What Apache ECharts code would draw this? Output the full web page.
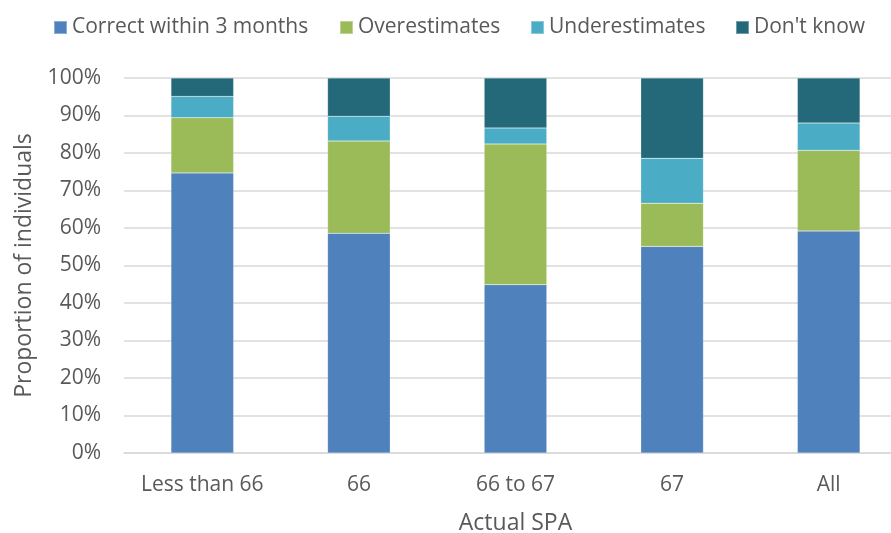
<!DOCTYPE html>
<html>
<head>
<meta charset="utf-8">
<script src="https://cdn.jsdelivr.net/npm/echarts@6/dist/echarts.min.js"></script>
<style>
  html, body { margin: 0; padding: 0; background: #fff; }
  #chart { width: 891px; height: 533px; }
</style>
</head>
<body>
<div id="chart"></div>
<script>
// Expected state pension age accuracy, by actual SPA
const categories = ['Less than 66', '66', '66 to 67', '67', 'All'];
const correctWithin3Months = [74.7, 58.6, 44.9, 55.1, 59.2];
const overestimates = [14.7, 24.6, 37.5, 11.5, 21.5];
const underestimates = [5.7, 6.6, 4.3, 12.0, 7.3];
const dontKnow = [4.9, 10.2, 13.3, 21.4, 12.0];

const FONT = 'Open Sans';
const TEXT = '#595959';
const FS = 21;       // tick labels and legend
const FS_TITLE = 23; // axis titles

const seriesDefs = [
  { name: 'Correct within 3 months', data: correctWithin3Months, color: '#4F81BD' },
  { name: 'Overestimates', data: overestimates, color: '#9BBB59' },
  { name: 'Underestimates', data: underestimates, color: '#4BACC6' },
  { name: "Don't know", data: dontKnow, color: '#24697A' }
];

// one legend block per series so each entry sits at its own x position
const legendLefts = [53, 339, 530, 735];
const legends = seriesDefs.map((s, i) => ({
  top: 17,
  left: legendLefts[i],
  padding: 0,
  itemWidth: 13,
  itemHeight: 13,
  icon: 'rect',
  textStyle: { fontFamily: FONT, fontSize: FS, color: TEXT },
  data: [s.name]
}));

const chart = echarts.init(document.getElementById('chart'), null, { renderer: 'canvas' });

chart.setOption({
  animation: false,
  textStyle: { fontFamily: FONT, color: TEXT },
  legend: legends,
  grid: { left: 124, top: 78, width: 783, height: 375, containLabel: false, outerBoundsMode: 'none' },
  xAxis: {
    type: 'category',
    data: categories,
    name: 'Actual SPA',
    nameLocation: 'middle',
    nameGap: 59,
    nameTextStyle: { fontFamily: FONT, fontSize: FS_TITLE, color: TEXT },
    axisLine: { lineStyle: { color: '#D9D9D9', width: 1.5 } },
    axisTick: { show: false },
    axisLabel: { fontFamily: FONT, fontSize: FS, color: TEXT, margin: 22, interval: 0, hideOverlap: false }
  },
  yAxis: {
    type: 'value',
    min: 0,
    max: 100,
    interval: 10,
    name: 'Proportion of individuals',
    nameLocation: 'middle',
    nameGap: 88,
    nameTextStyle: { fontFamily: FONT, fontSize: FS_TITLE, color: TEXT },
    axisLine: { show: false },
    axisTick: { show: false },
    axisLabel: { fontFamily: FONT, fontSize: FS, color: TEXT, margin: 23, formatter: v => v + '%' },
    splitLine: { lineStyle: { color: '#D9D9D9', width: 1.5 } }
  },
  series: seriesDefs.map(s => ({
    name: s.name,
    type: 'bar',
    stack: 'total',
    barWidth: '40%',
    data: s.data,
    itemStyle: { color: s.color, borderColor: 'rgba(255,255,255,0.35)', borderWidth: 0.5 }
  }))
});
</script>
</body>
</html>
